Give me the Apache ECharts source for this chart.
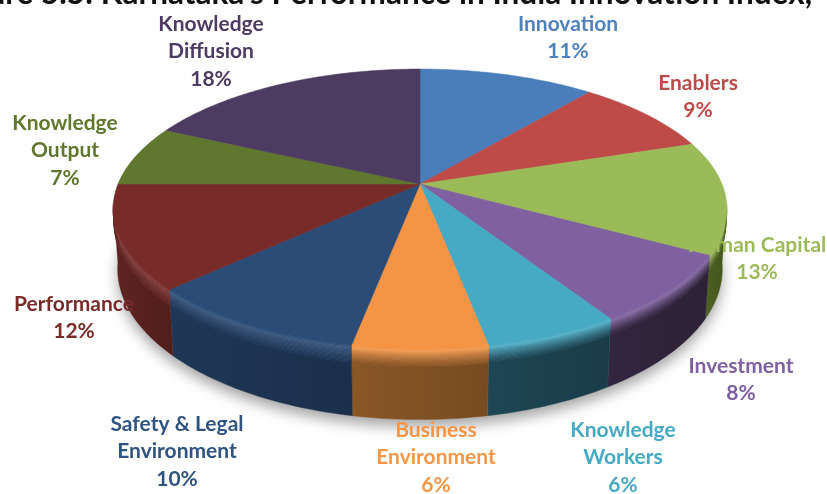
<!DOCTYPE html>
<html>
<head>
<meta charset="utf-8">
<style>
html,body{margin:0;padding:0;background:#fff;overflow:hidden}
#chart{width:827px;height:494px;filter:blur(0.6px)}
</style>
<script src="https://cdn.jsdelivr.net/npm/echarts@6/dist/echarts.min.js"></script>
</head>
<body>
<div id="chart"></div>
<script>
// ---- chart data ----
const categories = ['Innovation','Enablers','Human Capital','Investment','Knowledge\nWorkers','Business\nEnvironment','Safety & Legal\nEnvironment','Performance','Knowledge\nOutput','Knowledge\nDiffusion'];
const shares = [11,9,13,8,6,6,10,12,7,18];
const chartTitle = "Figure 5.5: Karnataka's Performance in India Innovation Index,";

// ---- styles ----
const topColors  = ['#4A7EBB','#BE4B48','#9BBB59','#7F60A0','#46AAC5','#F59444','#2B4C76','#772C2A','#5F772E','#4D3B62'];
const wallColors = ['#2C4C70','#6E2B29','#4D6223','#33263F','#1E4654','#8A5726','#1F3757','#5E2321','#3E4E1E','#30243E'];
const labelColors= ['#4F81BD','#BE4B48','#9BBB59','#7F60A0','#46AAC5','#F79646','#2F5480','#772C2A','#5F772E','#4D3B62'];
// ---- layout: label centres (x, y of the first line's middle) ----
const labelCentres = [[568,24],[698,83],[757,245],[741,366],[623,430],[436,430],[177,424],[74,304],[65,123],[211,24]];

const LH = 27.7, FS = 21;
// perspective projection of the pie disc
const cx = 420, cy = 184, ax = 302, by = 135.5, persp = 0.1786, depth = 58;
function project(deg, z) {
  const t = deg * Math.PI / 180, x = Math.sin(t), y = Math.cos(t), w = 1 + persp * y;
  return [cx + ax * x / w * (1 - 0.015 * z), cy - by * y / w + depth * z / w];
}
function arc(a0, a1, z) {
  const n = Math.max(2, Math.ceil(Math.abs(a1 - a0))), pts = [];
  for (let i = 0; i <= n; i++) pts.push(project(a0 + (a1 - a0) * i / n, z));
  return pts;
}
function hex(c){return [1,3,5].map(i=>parseInt(c.substr(i,2),16));}
function mix(c1,c2,t){const a=hex(c1),b=hex(c2);return '#'+a.map((v,i)=>Math.round(v+(b[i]-v)*t).toString(16).padStart(2,'0')).join('');}

const total = shares.reduce((s, v) => s + v, 0);
function sliceAngles(i) {
  let acc = 0;
  for (let k = 0; k < i; k++) acc += shares[k];
  return [acc / total * 360, (acc + shares[i]) / total * 360];
}
const seriesData = shares.map(v => [v]);
const V0 = 98, V1 = 262;   // visible range of the side wall
const BEVEL = 0.24, BANDS = 14;

function bevelColor(top, wall, t) {
  // t: 0 at the rim of the top face, 1 where the flat wall starts
  const light = mix(top,'#ffffff',0.1);
  if (t < 0.14) return mix(top, light, t / 0.14);
  return mix(light, wall, Math.pow((t - 0.14) / 0.86, 0.8));
}
function renderShadow(params) {
  if (params.dataIndex !== 0) return {type:'group',children:[]};
  return {type:'polygon', shape:{points:arc(0,360,1)},
    style:{fill:'#bbb',shadowBlur:14,shadowColor:'rgba(0,0,0,0.36)',shadowOffsetY:7}};
}
function renderWall(params) {
  const i = params.dataIndex, [s0,s1] = sliceAngles(i);
  const a0 = Math.max(s0,V0), a1 = Math.min(s1,V1);
  if (a1 <= a0) return {type:'group',children:[]};
  const top = topColors[i], wall = wallColors[i];
  const kids = [];
  const edge = mix(wall,'#000000',0.14);
  kids.push({type:'polygon',shape:{points:arc(a0,a1,BEVEL).concat(arc(a1,a0,1))},
    style:{fill:new echarts.graphic.LinearGradient(0,0,1,0,[{offset:0,color:wall},{offset:1,color:edge}]),
      stroke:wall,lineWidth:0.4}});
  for (let k = 0; k < BANDS; k++) {
    const z0 = BEVEL * k / BANDS, z1 = BEVEL * (k + 1) / BANDS + 0.006;
    const c = bevelColor(top, wall, (k + 0.5) / BANDS);
    kids.push({type:'polygon',shape:{points:arc(a0,a1,z0).concat(arc(a1,a0,z1))},
      style:{fill:c,stroke:c,lineWidth:0.3}});
  }
  return {type:'group',children:kids};
}
function renderTop(params) {
  const i = params.dataIndex, [s0,s1] = sliceAngles(i);
  return {type:'polygon',shape:{points:[[cx,cy]].concat(arc(s0,s1,0))},
    style:{fill:topColors[i],stroke:topColors[i],lineWidth:0.5}};
}
function renderLabel(params,api) {
  const i = params.dataIndex;
  const lines = categories[i].split('\n').concat([api.value(0)+'%']);
  return {type:'group',children:lines.map((t,k)=>({type:'text',
    x:labelCentres[i][0],y:labelCentres[i][1]+k*LH,
    style:{text:t,fill:labelColors[i],font:'bold '+FS+'px Lato, Carlito, sans-serif',align:'center',verticalAlign:'middle'}}))};
}
const base = {type:'custom',coordinateSystem:'none',data:seriesData,silent:true,animation:false};
const chart = echarts.init(document.getElementById('chart'),null,{renderer:'canvas'});
chart.setOption({
  animation:false,
  backgroundColor:'#fff',
  graphic:[{type:'text',x:812,y:10,z:10,style:{text:chartTitle,fill:'#111',font:'bold 31.5px Lato, sans-serif',align:'right',verticalAlign:'bottom'}}],
  series:[
    Object.assign({},base,{name:'shadow',renderItem:renderShadow,z:1}),
    Object.assign({},base,{name:'wall',renderItem:renderWall,z:2}),
    Object.assign({},base,{name:'top',renderItem:renderTop,z:3}),
    Object.assign({},base,{name:'labels',renderItem:renderLabel,z:4})
  ]
});
</script>
</body>
</html>
